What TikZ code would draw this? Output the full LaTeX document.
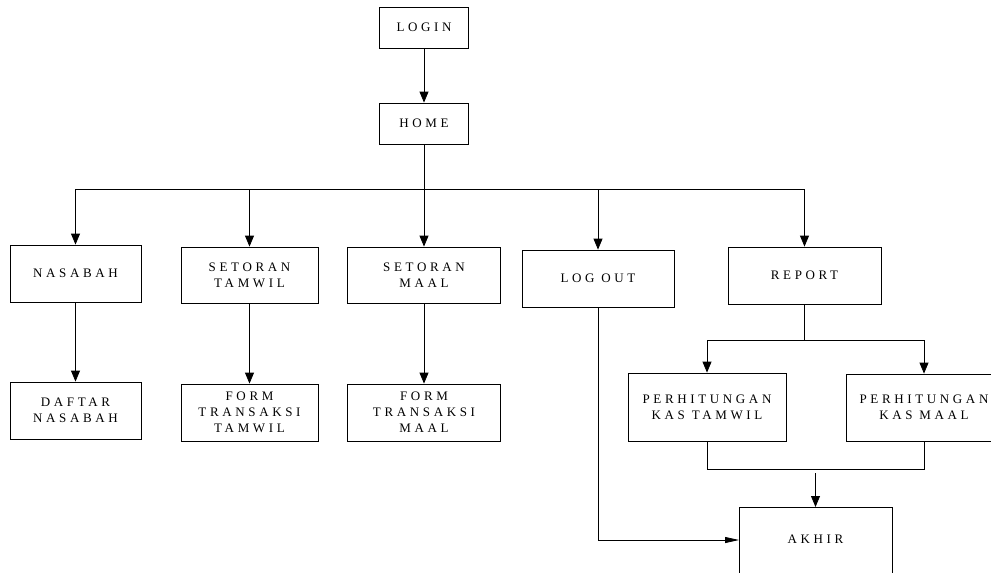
\documentclass[tikz,border=0pt]{standalone}
\usepackage{fontspec}
\setmainfont[LetterSpace=28]{Liberation Serif}
\usetikzlibrary{arrows.meta}
\begin{document}
\begin{tikzpicture}[x=1pt,y=-1pt,
  box/.style={draw, line width=0.8pt, align=center, inner sep=0pt,
    font=\fontsize{13}{16}\selectfont},
  conn/.style={line width=0.8pt},
  arr/.style={conn, -{Triangle[length=11pt,width=9pt]}},
  arrthin/.style={conn, -{Triangle[length=14pt,width=6pt]}}]
\clip (0,0) rectangle (991,573);
\fill[white] (0,0) rectangle (991,573);
% nodes
\node[box, minimum width=89pt, minimum height=41pt] (login) at (424,27.5) {LOGIN};
\node[box, minimum width=89pt, minimum height=41pt] (home) at (424,123.5) {HOME};
\node[box, minimum width=131pt, minimum height=57pt] (nasabah) at (75.5,273.5) {NASABAH};
\node[box, minimum width=137pt, minimum height=56pt] (stamwil) at (249.5,275) {SETORAN\\TAMWIL};
\node[box, minimum width=153pt, minimum height=56pt] (smaal) at (424,275) {SETORAN\\MAAL};
\node[box, minimum width=131pt, minimum height=57pt] (daftar) at (75.5,410.5) {DAFTAR\\NASABAH};
\node[box, minimum width=137pt, minimum height=57pt] (ftamwil) at (249.5,412.5) {FORM\\TRANSAKSI\\TAMWIL};
\node[box, minimum width=153pt, minimum height=57pt] (fmaal) at (424,412.5) {FORM\\TRANSAKSI\\MAAL};
\node[box, minimum width=152pt, minimum height=57pt] (logout) at (598,278.5) {LOG OUT};
\node[box, minimum width=153pt, minimum height=57pt] (report) at (804.5,275.5) {REPORT};
\node[box, minimum width=158pt, minimum height=68pt] (pkt) at (707,407) {PERHITUNGAN\\KAS TAMWIL};
\node[box, minimum width=156pt, minimum height=67pt] (pkm) at (924,407.5) {PERHITUNGAN\\KAS MAAL};
\node[box, minimum width=153pt, text height=36pt, text depth=57pt, anchor=north] (akhir) at (815.5,507) {AKHIR};
% coordinates
\coordinate (busL) at (75.5,189);
\coordinate (busT) at (249.5,189);
\coordinate (busO) at (598,189);
\coordinate (busR) at (804.5,189);
\coordinate (repJ) at (804.5,340);
\coordinate (repL) at (707,340);
\coordinate (repR) at (924,340);
\coordinate (joinL) at (707,469);
\coordinate (joinR) at (924,469);
\coordinate (joinA) at (815.5,473);
\coordinate (lk) at (739,540);
% connectors
\draw[arr] (login) -- (home);
\draw[arr] (home) -- (smaal);
\draw[conn] (busL) -- (busR);
\draw[arr] (busL) -- (nasabah);
\draw[arr] (busT) -- (stamwil);
\draw[arr] (busO) -- (logout);
\draw[arr] (busR) -- (report);
\draw[arr] (nasabah) -- (daftar);
\draw[arr] (stamwil) -- (ftamwil);
\draw[arr] (smaal) -- (fmaal);
\draw[conn] (report) -- (repJ);
\draw[conn] (repL) -- (repR);
\draw[arr] (repL) -- (pkt);
\draw[arr] (repR) -- (pkm);
\draw[conn] (pkt.south) -- (joinL) -- (joinR) -- (pkm.south);
\draw[arr] (joinA) -- (akhir);
\draw[arrthin] (logout.south) |- (lk);
\end{tikzpicture}
\end{document}
